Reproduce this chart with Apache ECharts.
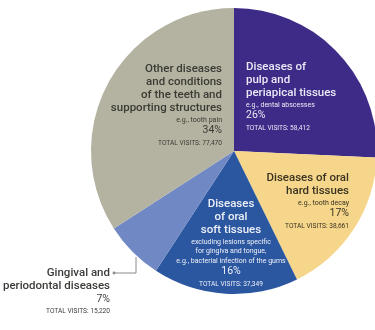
<!DOCTYPE html>
<html>
<head>
<meta charset="utf-8">
<script src="https://cdn.jsdelivr.net/npm/echarts@6/dist/echarts.min.js"></script>
<style>
  html, body { margin: 0; padding: 0; background: #fff; }
  #chart { width: 375px; height: 330px; }
</style>
</head>
<body>
<div id="chart"></div>
<script>
// slices, clockwise from 12 o'clock
const categories = ['pulp', 'hard', 'soft', 'gingival', 'other']
const titles = [
  ['Diseases of', 'pulp and', 'periapical tissues'],
  ['Diseases of oral', 'hard tissues'],
  ['Diseases', 'of oral', 'soft tissues'],
  ['Gingival and', 'periodontal diseases'],
  ['Other diseases', 'and conditions', 'of the teeth and', 'supporting structures']
]
const notes = [
  ['e.g., dental abscesses'],
  ['e.g., tooth decay'],
  ['excluding lesions specific', 'for gingiva and tongue,', 'e.g., bacterial infection of the gums'],
  [],
  ['e.g., tooth pain']
]
const percents = ['26%', '17%', '16%', '7%', '34%']
const visits = [58412, 38661, 37349, 15220, 77470]

const colors = ['#3e2b88', '#f5d68a', '#2b56a0', '#7088c4', '#b4b3a2']
const textColors = ['#ece8f6', '#3a3323', '#eef1f8', '#3b3b38', '#3b3a33']
// label block anchor: [x, top, align]
const labelPos = [
  [246, 61, 'left'],
  [349, 172, 'right'],
  [231, 198, 'center'],
  [110, 267, 'right'],
  [222, 63, 'right']
]

const font = 'Roboto, "Liberation Sans", sans-serif'

function buildLabel (i) {
  let lines = []
  titles[i].forEach(t => lines.push(`{t|${t}}`))
  notes[i].forEach(n => lines.push(`{n|${n}}`))
  lines.push(`{p|${percents[i]}}`)
  lines.push(`{v|TOTAL VISITS: ${visits[i].toLocaleString('en-US')}}`)
  return lines.join('\n')
}

let myChart = echarts.init(document.getElementById('chart'))
myChart.setOption({
  animation: false,
  series: [{
    type: 'pie',
    center: [234, 151],
    radius: 143,
    startAngle: 90,
    clockwise: true,
    avoidLabelOverlap: false,
    silent: true,
    itemStyle: { borderWidth: 0 },
    label: {
      show: true,
      position: 'outside',
      formatter: p => buildLabel(p.dataIndex)
    },
    labelLine: { show: false },
    labelLayout: params => {
      let pos = labelPos[params.dataIndex]
      let out = { x: pos[0], y: pos[1], align: pos[2], verticalAlign: 'top' }
      if (params.dataIndex === 3) {
        out.labelLinePoints = [[136, 257], [136, 273], [114, 273]]
      }
      return out
    },
    data: visits.map((v, i) => {
      let c = textColors[i]
      let a = labelPos[i][2]
      return {
        name: categories[i],
        value: v,
        itemStyle: { color: colors[i] },
        labelLine: i === 3 ? { show: true, lineStyle: { color: '#8a8a8a', width: 1 } } : { show: false },
        label: {
          align: a,
          rich: {
            t: { fontFamily: font, fontSize: 11.5, fontWeight: 500, color: c, lineHeight: 13, align: a },
            n: { fontFamily: font, fontSize: 7, color: c, lineHeight: 9.5, align: a },
            p: { fontFamily: font, fontSize: 10.5, color: c, lineHeight: 12, align: a },
            v: { fontFamily: font, fontSize: 6.6, color: c, lineHeight: 13, align: a }
          }
        }
      }
    })
  }],
  graphic: [{
    type: 'circle',
    shape: { cx: 114, cy: 273, r: 1.4 },
    style: { fill: '#8a8a8a' }
  }]
})
</script>
</body>
</html>
